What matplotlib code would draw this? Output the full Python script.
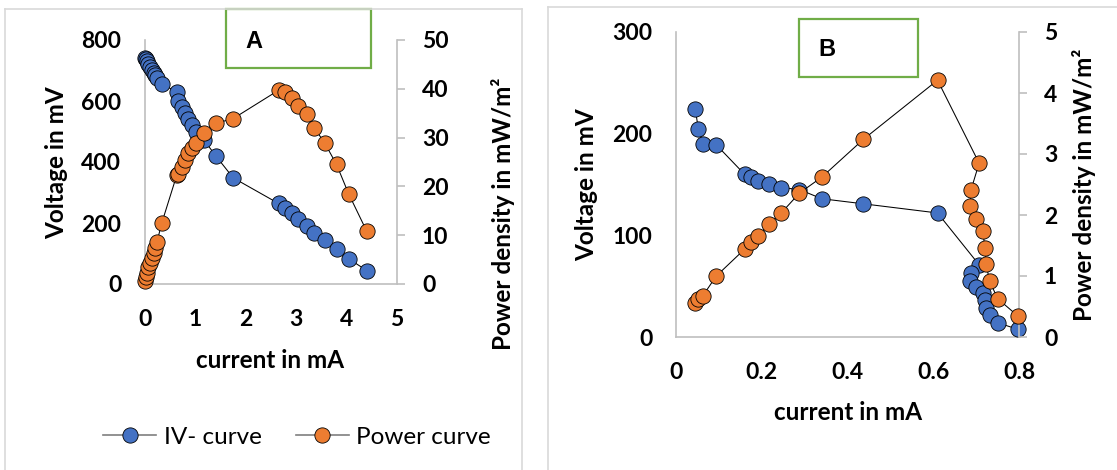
import matplotlib
matplotlib.use("Agg")
import matplotlib.pyplot as plt
from matplotlib.lines import Line2D
from matplotlib.patches import Rectangle

plt.rcParams['font.family'] = ['Lato', 'DejaVu Sans']

# ---------------- data ----------------
# Panel A
current_A = [0.00, 0.02, 0.03, 0.06, 0.10, 0.13, 0.17, 0.20, 0.24, 0.33,
             0.63, 0.66, 0.73, 0.79, 0.86, 0.94, 1.02, 1.17, 1.40, 1.75,
             2.65, 2.78, 2.91, 3.04, 3.21, 3.36, 3.57, 3.80, 4.04, 4.40]
voltage_A = [742, 738, 730, 722, 712, 703, 693, 684, 674, 656,
             630, 600, 580, 562, 540, 520, 500, 472, 421, 348,
             264, 248, 234, 212, 190, 168, 144, 114, 83, 44]
power_A = [0.6, 1.5, 2.2, 3.5, 4.4, 5.3, 6.3, 7.3, 8.7, 12.4,
           22.3, 22.5, 24.0, 25.4, 26.9, 27.8, 28.9, 31.0, 32.9, 33.9,
           39.7, 39.3, 38.2, 36.5, 34.8, 32.0, 28.8, 24.5, 18.5, 10.8]

# Panel B
current_B = [0.045, 0.052, 0.063, 0.094, 0.160, 0.175, 0.191, 0.216, 0.245, 0.288,
             0.340, 0.437, 0.610, 0.707, 0.688, 0.686, 0.700, 0.715, 0.721, 0.723,
             0.732, 0.750, 0.798]
voltage_B = [224, 205, 190, 189, 160, 157, 153, 150, 147, 145,
             136, 131, 122, 71, 63, 55, 49, 43, 36, 29,
             22, 14, 7.5]
power_B = [0.56, 0.62, 0.68, 1.00, 1.44, 1.55, 1.65, 1.85, 2.03, 2.36,
           2.62, 3.24, 4.21, 2.85, 2.41, 2.14, 1.93, 1.74, 1.46, 1.19,
           0.91, 0.63, 0.34]

x_ticks_A = [0, 1, 2, 3, 4, 5]
yl_ticks_A = [0, 200, 400, 600, 800]
yr_ticks_A = [0, 10, 20, 30, 40, 50]
x_ticks_B = [0, 0.2, 0.4, 0.6, 0.8]
x_ticklabels_B = ["0", "0.2", "0.4", "0.6", "0.8"]
yl_ticks_B = [0, 100, 200, 300]
yr_ticks_B = [0, 1, 2, 3, 4, 5]

series_names = ["IV- curve", "Power curve"]
panel_labels = ["A", "B"]

BLUE = "#4472C4"
ORANGE = "#ED7D31"
GRAY = "#BFBFBF"
FRAME = "#D9D9D9"
GREEN = "#70AD47"

W, H = 1117, 470
fig = plt.figure(figsize=(W / 100, H / 100), dpi=100)


def fx(x):
    return x / W


def fy(y):
    return 1 - y / H


def add_axes(l, t, r, b):
    return fig.add_axes([fx(l), fy(b), fx(r) - fx(l), fy(t) - fy(b)])


TICK_FS = 16.5
LABEL_FS = 17.5
MS = 11


def draw_panel(box, x, v, p, xlim, ylim_l, ylim_r, xt, xtl, ylt, yrt):
    ax = add_axes(*box)
    ax.set_facecolor("none")
    ax.plot(x, v, color="black", lw=0.75, marker="o", ms=MS,
            mfc=BLUE, mec="black", mew=0.6, zorder=3, clip_on=False)
    ax.set_xlim(*xlim)
    ax.set_ylim(*ylim_l)
    ax.set_xticks(xt)
    ax.set_xticklabels(xtl)
    ax.set_yticks(ylt)
    for s in ["top", "right"]:
        ax.spines[s].set_visible(False)
    for s in ["left", "bottom"]:
        ax.spines[s].set_color(GRAY)
        ax.spines[s].set_linewidth(1.2)
    ax.tick_params(axis="both", length=0, labelsize=TICK_FS)
    ax.tick_params(axis="y", pad=17)
    ax.tick_params(axis="x", pad=18)
    for lab in ax.get_xticklabels() + ax.get_yticklabels():
        lab.set_fontweight("bold")

    ax2 = ax.twinx()
    ax2.plot(x, p, color="black", lw=0.75, marker="o", ms=MS,
             mfc=ORANGE, mec="black", mew=0.6, zorder=3, clip_on=False)
    ax2.set_ylim(*ylim_r)
    ax2.set_yticks(yrt)
    for s in ["top", "left", "bottom"]:
        ax2.spines[s].set_visible(False)
    ax2.spines["right"].set_color(GRAY)
    ax2.spines["right"].set_linewidth(1.2)
    ax2.tick_params(axis="y", direction="out", length=6, width=1.2,
                    color=GRAY, pad=12, labelsize=TICK_FS)
    for lab in ax2.get_yticklabels():
        lab.set_fontweight("bold")
    return ax, ax2


# panel frames
fig.add_artist(Line2D([fx(5), fx(5)], [fy(9), 0], color=FRAME, lw=1.2))
fig.add_artist(Line2D([fx(5), fx(522)], [fy(9), fy(9)], color=FRAME, lw=1.2))
fig.add_artist(Line2D([fx(522), fx(522)], [fy(9), 0], color=FRAME, lw=1.2))
fig.add_artist(Line2D([fx(548), fx(548)], [fy(7), 0], color=FRAME, lw=1.2))
fig.add_artist(Line2D([fx(548), 1], [fy(7), fy(7)], color=FRAME, lw=1.2))

axA, axA2 = draw_panel((145, 40, 397, 284), current_A, voltage_A, power_A,
                       (0, 5), (0, 800), (0, 50), x_ticks_A,
                       [str(t) for t in x_ticks_A], yl_ticks_A, yr_ticks_A)
axB, axB2 = draw_panel((676, 32, 1019, 337), current_B, voltage_B, power_B,
                       (0, 0.8), (0, 300), (0, 5), x_ticks_B,
                       x_ticklabels_B, yl_ticks_B, yr_ticks_B)

# axis titles
lab_kw = dict(fontsize=LABEL_FS, fontweight="bold", ha="center", va="center")
fig.text(fx(57), fy(163), "Voltage in mV", rotation=90, **lab_kw)
fig.text(fx(503), fy(214), "Power density in mW/m²", rotation=90, **lab_kw)
fig.text(fx(270), fy(360), "current in mA", **lab_kw)
fig.text(fx(587), fy(185), "Voltage in mV", rotation=90, **lab_kw)
fig.text(fx(1084), fy(185), "Power density in mW/m²", rotation=90, **lab_kw)
fig.text(fx(848), fy(413), "current in mA", **lab_kw)

# green label boxes
for (l, t, r, b), (tx, ty), txt in [((226, 9, 371, 68), (254, 41), panel_labels[0]),
                                    ((799, 19, 918, 77), (827, 50), panel_labels[1])]:
    fig.add_artist(Rectangle((fx(l), fy(b)), fx(r) - fx(l), fy(t) - fy(b),
                             fill=True, facecolor="white", edgecolor=GREEN,
                             lw=1.6, transform=fig.transFigure))
    fig.text(fx(tx), fy(ty), txt, fontsize=17, fontweight="bold",
             family=["Liberation Sans", "DejaVu Sans"], ha="center", va="center")

# legend
handles = [Line2D([], [], color="#7F7F7F", lw=1.2, marker="o", ms=MS,
                  mfc=BLUE, mec="black", mew=0.6),
           Line2D([], [], color="#7F7F7F", lw=1.2, marker="o", ms=MS,
                  mfc=ORANGE, mec="black", mew=0.6)]
fig.legend(handles, series_names, loc="center", ncol=2,
           bbox_to_anchor=(fx(297), fy(437)), frameon=False,
           fontsize=17.5, handlelength=2.2, handletextpad=0.3,
           columnspacing=1.4)

fig.savefig("out.png", dpi=100)
